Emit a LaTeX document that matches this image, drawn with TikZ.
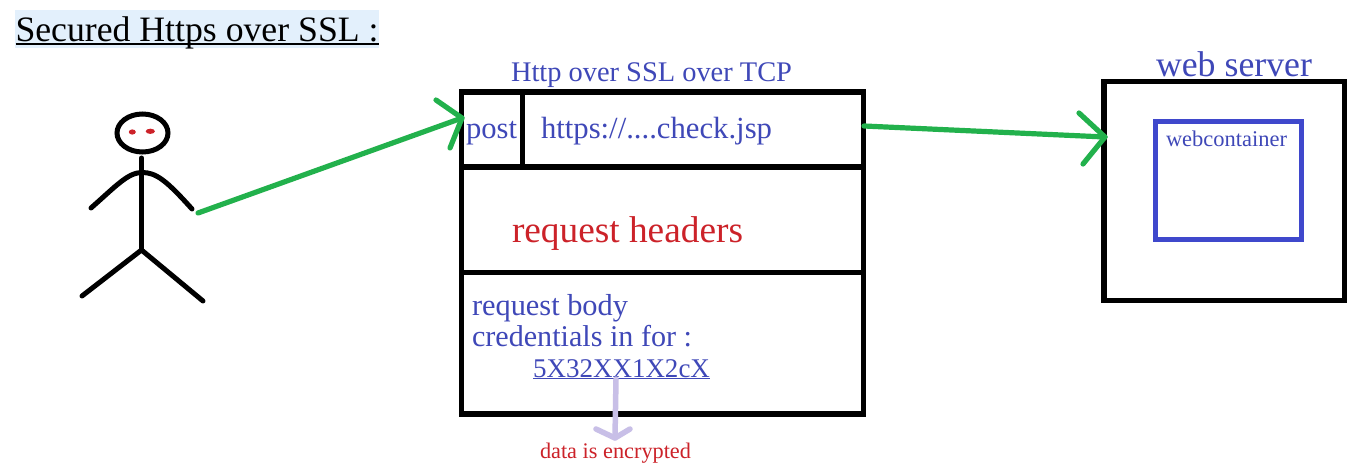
\documentclass[tikz,border=0pt]{standalone}
\usepackage{fontspec}
\setmainfont{Liberation Serif}
\usetikzlibrary{shapes.geometric}
\definecolor{inkblue}{HTML}{3F48B8}
\definecolor{boxblue}{HTML}{3F48CC}
\definecolor{inkgreen}{HTML}{22B14C}
\definecolor{inkred}{HTML}{CC2229}
\definecolor{lav}{HTML}{C8BFE7}
\definecolor{hilite}{HTML}{E3F0FC}
\newcommand{\tw}[2]{\resizebox{#1pt}{!}{#2}}
\tikzset{
  cell/.style={draw=black,line width=5.3pt,inner sep=0pt,outer sep=0pt,rectangle,minimum width=#1},
  txt/.style={anchor=base west,inner sep=0pt,outer sep=0pt,font=\fontsize{30pt}{36pt}\selectfont},
  blue text/.style={txt,text=inkblue},
  red text/.style={txt,text=inkred},
  stick/.style={draw=black,line width=5pt,line cap=round,line join=round},
  gline/.style={draw=inkgreen,line width=5.2pt,line cap=round,line join=round},
  lline/.style={draw=lav,line width=5.5pt,line cap=round,line join=round},
}
\begin{document}
\begin{tikzpicture}[x=1pt,y=-1pt]
\useasboundingbox[fill=white] (0,0) rectangle (1350,468);
% title
\fill[hilite] (15,10) rectangle (379,48);
\node[txt,text=black] (title) at (15.5,42) {\tw{363}{Secured Https over SSL :}};
\draw[black,line width=2.2pt] (title.base west) ++(0,2.2) -- ++(363,0);
% request box
\node[cell=61pt,minimum height=75pt] (postcell) at (492,129.5) {};
\node[cell=341pt,minimum height=75pt] (urlcell) at (693,129.5) {};
\node[cell=402pt,minimum height=105.5pt] (headcell) at (662.5,219.75) {};
\node[cell=402pt,minimum height=141.5pt] (bodycell) at (662.5,343.25) {};
\node[blue text] (proto) at (511,82) {\tw{281}{Http over SSL over TCP}};
\node[blue text] (posttxt) at (466,139) {\tw{51}{post}};
\node[blue text] (urltxt) at (541,139) {\tw{231}{https://....check.jsp}};
\node[red text] (headtxt) at (512,242) {\tw{231}{request headers}};
\node[blue text] (bodytxt) at (472,315) {\tw{156}{request body}};
\node[blue text] (credtxt) at (472,346) {\tw{220}{credentials in for :}};
\node[blue text] (cipher) at (533,377) {\tw{177}{5X32XX1X2cX}};
\draw[inkblue,line width=1.3pt] (cipher.base west) ++(0,1.6) -- ++(177,0);
\node[red text] (enc) at (540,458) {\tw{151}{data is encrypted}};
% server
\node[cell=240.5pt,minimum height=219pt] (server) at (1224.25,191) {};
\node[cell=146pt,minimum height=118pt,draw=boxblue] (container) at (1228.5,180.5) {};
\node[blue text] (servertxt) at (1156,76.5) {\tw{156}{web server}};
\node[blue text] (conttxt) at (1166,146.5) {\tw{121}{webcontainer}};
% person
\node[draw=black,line width=5pt,ellipse,inner sep=0pt,outer sep=0pt,minimum width=51pt,minimum height=38pt] (head) at (142.5,133) {};
\fill[inkred] (132.3,132) ellipse (3.5 and 2.6);
\fill[inkred] (150.3,131.3) ellipse (4.6 and 2.6);
\coordinate (neck) at (141.5,158);
\coordinate (hip) at (141.5,250);
\coordinate (shoulder) at (142,172.5);
\coordinate (lhand) at (91,208);
\coordinate (rhand) at (192,209);
\coordinate (lfoot) at (82,296);
\coordinate (rfoot) at (203,301);
\draw[stick] (neck) -- (hip);
\draw[stick] (lhand) .. controls (116,186) and (128,172.5) .. (shoulder) .. controls (156,172.5) and (166,180) .. (rhand);
\draw[stick] (lfoot) -- (hip) -- (rfoot);
% green arrows
\coordinate (a1s) at (198,213);
\coordinate (a1t) at (462,118);
\coordinate (a1u) at (436,100);
\coordinate (a1d) at (450,148);
\draw[gline] (a1s) -- (a1t);
\draw[gline] (a1u) -- (a1t) -- (a1d);
\coordinate (a2s) at (864,126);
\coordinate (a2t) at (1105,137);
\coordinate (a2u) at (1079,113);
\coordinate (a2d) at (1083,164);
\draw[gline] (a2s) -- (a2t);
\draw[gline] (a2u) -- (a2t) -- (a2d);
% lavender arrow
\coordinate (l1s) at (616,379);
\coordinate (l1t) at (615,438);
\coordinate (l1u) at (596,429);
\coordinate (l1d) at (630,429);
\draw[lline] (l1s) -- (l1t);
\draw[lline] (l1u) -- (l1t) -- (l1d);
\end{tikzpicture}
\end{document}
